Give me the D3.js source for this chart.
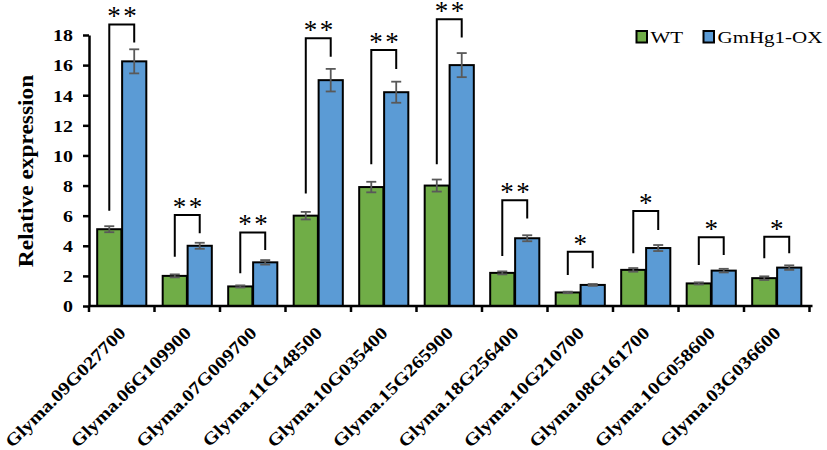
<!DOCTYPE html>
<html><head><meta charset="utf-8">
<script src="https://cdn.jsdelivr.net/npm/d3@7"></script>
<style>body{margin:0;background:#fff}svg{display:block}</style>
</head><body>
<svg id="c" width="827" height="450"></svg>
<script>
const categories = ["Glyma.09G027700","Glyma.06G109900","Glyma.07G009700","Glyma.11G148500","Glyma.10G035400","Glyma.15G265900","Glyma.18G256400","Glyma.10G210700","Glyma.08G161700","Glyma.10G058600","Glyma.03G036600"];
const seriesNames = ["WT","GmHg1-OX"];
const wtValues = [5.1, 2.0, 1.3, 6.0, 7.9, 8.0, 2.2, 0.9, 2.4, 1.5, 1.85];
const wtErrors = [0.2, 0.1, 0.07, 0.25, 0.35, 0.4, 0.1, 0.05, 0.12, 0.07, 0.12];
const oxValues = [16.25, 4.0, 2.9, 15.0, 14.2, 16.0, 4.5, 1.4, 3.85, 2.35, 2.55];
const oxErrors = [0.8, 0.2, 0.15, 0.75, 0.7, 0.8, 0.2, 0.06, 0.2, 0.12, 0.15];
const significance = ["**","**","**","**","**","**","**","*","*","*","*"];
// bracket levels in data units: [left end, top, right end]
const bracketLeft = [6.33, 3.27, 2.17, 7.48, 9.41, 9.41, 3.32, 2.06, 3.5, 2.72, 3.17];
const bracketTop = [18.7, 6.04, 4.89, 17.78, 17.0, 19.04, 7.02, 3.6, 6.31, 4.56, 4.6];
const bracketRight = [17.5, 4.83, 3.72, 16.55, 15.74, 17.84, 5.82, 2.5, 5.05, 3.39, 3.5];
const yTicks = [0,2,4,6,8,10,12,14,16,18];
const yTitle = "Relative expression";

const colors = {"WT":"#70AD47","GmHg1-OX":"#5B9BD5"};
const FONT = "'Liberation Serif','Times New Roman',serif";
const SX = 1.17;

const svg = d3.select("#c");
const y = d3.scaleLinear().domain([0,18]).range([306,35]);
const x = d3.scaleBand().domain(categories).range([89,809.5]).paddingInner(0.25).paddingOuter(0.125);
const x1 = d3.scaleBand().domain(seriesNames).range([0,x.bandwidth()]).paddingInner(0.03);

const rows = categories.map((c,i)=>({c,i,vals:[
  {s:"WT",v:wtValues[i],e:wtErrors[i]},
  {s:"GmHg1-OX",v:oxValues[i],e:oxErrors[i]}]}));

const g = svg.append("g");
const grp = g.selectAll("g.grp").data(rows).join("g").attr("transform",d=>`translate(${x(d.c)},0)`);
grp.selectAll("rect").data(d=>d.vals).join("rect")
  .attr("x",d=>x1(d.s)).attr("width",x1.bandwidth())
  .attr("y",d=>y(d.v)).attr("height",d=>y(0)-y(d.v))
  .attr("fill",d=>colors[d.s]).attr("stroke","#000").attr("stroke-width",2);
// error bars
const eb = grp.selectAll("g.eb").data(d=>d.vals).join("g").attr("class","eb")
  .attr("stroke","#595959").attr("stroke-width",1.8);
eb.append("line").attr("x1",d=>x1(d.s)+x1.bandwidth()/2).attr("x2",d=>x1(d.s)+x1.bandwidth()/2)
  .attr("y1",d=>y(d.v-d.e)).attr("y2",d=>y(d.v+d.e));
eb.append("line").attr("x1",d=>x1(d.s)+x1.bandwidth()/2-5).attr("x2",d=>x1(d.s)+x1.bandwidth()/2+5)
  .attr("y1",d=>y(d.v+d.e)).attr("y2",d=>y(d.v+d.e));
eb.append("line").attr("x1",d=>x1(d.s)+x1.bandwidth()/2-5).attr("x2",d=>x1(d.s)+x1.bandwidth()/2+5)
  .attr("y1",d=>y(d.v-d.e)).attr("y2",d=>y(d.v-d.e));

// brackets
grp.append("path").attr("fill","none").attr("stroke","#000").attr("stroke-width",2)
  .attr("d",d=>{
    const xl = x1("WT")+x1.bandwidth()/2, xr = x1("GmHg1-OX")+x1.bandwidth()/2;
    return `M${xl},${y(bracketLeft[d.i])}V${y(bracketTop[d.i])}H${xr}V${y(bracketRight[d.i])}`;
  });
grp.append("text")
  .attr("x",d=>x.bandwidth()/2 + (significance[d.i].length>1?1.5:0))
  .attr("y",d=>Math.max(y(bracketTop[d.i])+1, 15))
  .attr("text-anchor","middle").attr("font-family",FONT).attr("font-size",27)
  .attr("fill","#000")
  .attr("letter-spacing",d=>significance[d.i].length>1?2.5:0)
  .text(d=>significance[d.i]);

// y axis
const ya = g.append("g").attr("transform","translate(89,0)")
  .call(d3.axisLeft(y).tickValues(yTicks).tickSize(6).tickSizeOuter(0).tickPadding(10));
ya.select(".domain").attr("stroke","#000").attr("stroke-width",2.5);
ya.selectAll(".tick line").attr("stroke","#000").attr("stroke-width",2.5);
ya.selectAll(".tick text").attr("font-family",FONT).attr("font-weight","bold").attr("font-size",17)
  .attr("fill","#000").attr("dy","0.34em")
  .each(function(){ const t=d3.select(this); const xx=+t.attr("x"); t.attr("transform",`translate(${xx},0) scale(${SX},1) translate(${-xx},0)`); });

// x axis
const xr = x.range();
g.append("line").attr("x1",xr[0]).attr("x2",xr[1]+3).attr("y1",y(0)).attr("y2",y(0))
  .attr("stroke","#000").attr("stroke-width",2.5);
g.selectAll("line.xt").data(d3.range(categories.length+1)).join("line").attr("class","xt")
  .attr("x1",i=>xr[0]+i*x.step()).attr("x2",i=>xr[0]+i*x.step())
  .attr("y1",y(0)).attr("y2",y(0)+6).attr("stroke","#000").attr("stroke-width",2.5);
g.selectAll("text.xl").data(categories).join("text").attr("class","xl")
  .attr("transform",c=>`translate(${x(c)+x.bandwidth()/2+5},334) rotate(-45) scale(${SX},1)`)
  .attr("text-anchor","end").attr("font-family",FONT).attr("font-weight","bold").attr("font-size",17.5)
  .text(c=>c);

// y title
g.append("text").attr("transform",`translate(33,171) rotate(-90) scale(${SX},1)`)
  .attr("text-anchor","middle").attr("font-family",FONT).attr("font-weight","bold").attr("font-size",20)
  .text(yTitle);

// legend
const lg = g.append("g");
const legX = [636.5, 703.5];
seriesNames.forEach((s,i)=>{
  lg.append("rect").attr("x",legX[i]).attr("y",31).attr("width",10.5).attr("height",11.5)
    .attr("fill",colors[s]).attr("stroke","#000").attr("stroke-width",2);
  lg.append("text").attr("transform",`translate(${legX[i]+14},43) scale(1.2,1)`)
    .attr("font-family",FONT).attr("font-size",17.5).text(s);
});
</script>
</body></html>
